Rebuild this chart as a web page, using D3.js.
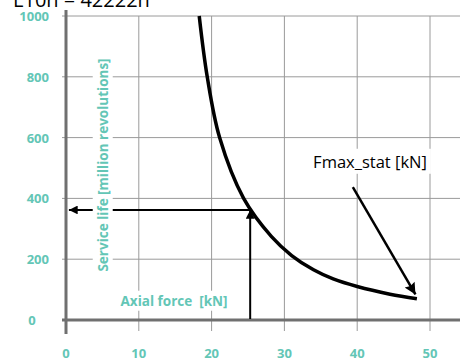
<!DOCTYPE html>
<meta charset="utf-8">
<html>
<head>
    <title>Service life curve</title>
    <style>
        body { margin: 0; background: #fff; }
        text { font-family: "Open Sans", sans-serif; white-space: pre; }
        .teal { fill: #63c6b6; font-weight: bold; }
    </style>
    <script src="https://d3js.org/d3.v7.min.js"></script>
</head>
<body>
    <div id="chart"></div>
    <script>
        // data
        var title = "L10h = 42222h";
        var xTicks = [0, 10, 20, 30, 40, 50];
        var yTicks = [0, 200, 400, 600, 800, 1000];
        var force = [18.3, 19.4, 21.1, 24.4, 28.2, 31.0, 34.0, 36.7, 40.0, 44.5, 48.2];
        var life = [1000, 800, 600, 400, 275, 212, 165, 135, 110, 85, 70];
        var operatingPoint = { force: 25.3, life: 362 };
        var fmaxArrow = { from: [39.4, 437], to: [48.0, 84] };

        var W = 460, H = 363;

        var svg = d3.select("#chart").append("svg")
            .attr("width", W)
            .attr("height", H);

        var x = d3.scaleLinear().domain([0, 50]).range([66, 430]);
        var y = d3.scaleLinear().domain([0, 1000]).range([320, 16]);

        var defs = svg.append("defs");
        defs.append("marker")
            .attr("id", "head")
            .attr("viewBox", "0 0 10 10")
            .attr("refX", 10).attr("refY", 5)
            .attr("markerWidth", 5).attr("markerHeight", 4.4)
            .attr("markerUnits", "strokeWidth")
            .attr("orient", "auto")
            .append("path").attr("d", "M0,0 L10,5 L0,10 Z").attr("fill", "#000");
        defs.append("marker")
            .attr("id", "bighead")
            .attr("viewBox", "0 0 10 10")
            .attr("refX", 10).attr("refY", 5)
            .attr("markerWidth", 6.5).attr("markerHeight", 4.6)
            .attr("markerUnits", "strokeWidth")
            .attr("orient", "auto")
            .append("path").attr("d", "M0,0 L10,5 L0,10 L1.5,5 Z").attr("fill", "#000");

        // grid
        var grid = svg.append("g").attr("stroke", "#9a9a9a").attr("stroke-width", 1);
        grid.selectAll(".hg")
            .data(yTicks.filter(function (d) { return d > 0; }))
            .enter().append("line")
            .attr("x1", 62).attr("x2", W)
            .attr("y1", function (d) { return y(d); })
            .attr("y2", function (d) { return y(d); });
        grid.selectAll(".vg")
            .data(xTicks.filter(function (d) { return d > 0; }))
            .enter().append("line")
            .attr("x1", function (d) { return x(d); })
            .attr("x2", function (d) { return x(d); })
            .attr("y1", y(1000)).attr("y2", 331);

        // axes
        svg.append("line")
            .attr("x1", x(0)).attr("x2", x(0))
            .attr("y1", 10).attr("y2", 334)
            .attr("stroke", "#707070").attr("stroke-width", 3);
        svg.append("line")
            .attr("x1", 62).attr("x2", W)
            .attr("y1", y(0)).attr("y2", y(0))
            .attr("stroke", "#707070").attr("stroke-width", 3);

        svg.selectAll(".ylab")
            .data(yTicks)
            .enter().append("text")
            .attr("class", "teal")
            .attr("x", function (d) { return d === 0 ? 32 : 49; })
            .attr("y", function (d) { return y(d) + 5; })
            .attr("text-anchor", function (d) { return d === 0 ? "middle" : "end"; })
            .attr("font-size", 13)
            .text(function (d) { return d; });

        svg.selectAll(".xlab")
            .data(xTicks)
            .enter().append("text")
            .attr("class", "teal")
            .attr("x", function (d) { return x(d); })
            .attr("y", 358)
            .attr("text-anchor", "middle")
            .attr("font-size", 13)
            .text(function (d) { return d; });

        // life curve
        var pts = force.map(function (f, i) { return [f, life[i]]; });
        svg.append("path")
            .datum(pts)
            .attr("fill", "none")
            .attr("stroke", "#000")
            .attr("stroke-width", 3.5)
            .attr("d", d3.line()
                .x(function (d) { return x(d[0]); })
                .y(function (d) { return y(d[1]); })
                .curve(d3.curveCatmullRom));

        // reading arrows
        svg.append("line")
            .attr("x1", x(operatingPoint.force)).attr("x2", x(operatingPoint.force))
            .attr("y1", y(0) - 1).attr("y2", y(operatingPoint.life))
            .attr("stroke", "#000").attr("stroke-width", 2)
            .attr("marker-end", "url(#head)");
        svg.append("line")
            .attr("x1", x(operatingPoint.force)).attr("x2", x(0.4))
            .attr("y1", y(operatingPoint.life)).attr("y2", y(operatingPoint.life))
            .attr("stroke", "#000").attr("stroke-width", 2)
            .attr("marker-end", "url(#head)");

        svg.append("line")
            .attr("x1", x(fmaxArrow.from[0])).attr("y1", y(fmaxArrow.from[1]))
            .attr("x2", x(fmaxArrow.to[0])).attr("y2", y(fmaxArrow.to[1]))
            .attr("stroke", "#000").attr("stroke-width", 2.5)
            .attr("marker-end", "url(#bighead)");

        // labels with white backing
        function label(txt, px, py, opts) {
            var g = svg.append("g").attr("transform", "translate(" + px + "," + py + ")" + (opts.rotate ? " rotate(-90)" : ""));
            var bg = g.append("rect").attr("fill", "#fff");
            var t = g.append("text")
                .attr("text-anchor", "middle")
                .attr("dy", "0.35em")
                .attr("font-size", opts.size)
                .attr("class", opts.cls || null)
                .attr("fill", opts.fill || null)
                .text(txt);
            var b = t.node().getBBox();
            bg.attr("x", b.x - opts.pad).attr("y", b.y - 1)
                .attr("width", b.width + 2 * opts.pad).attr("height", b.height + 2);
        }

        label("Service life [million revolutions]", 103, 165, { rotate: true, size: 13.5, cls: "teal", pad: 3 });
        label("Axial force  [kN]", 174, 301, { size: 13.5, cls: "teal", pad: 4 });
        label("Fmax_stat [kN]", 370, 162, { size: 16.5, fill: "#000", pad: 4 });

        svg.append("text")
            .attr("x", 13).attr("y", 7)
            .attr("font-size", 20)
            .attr("fill", "#000")
            .text(title);
    </script>
</body>
</html>
